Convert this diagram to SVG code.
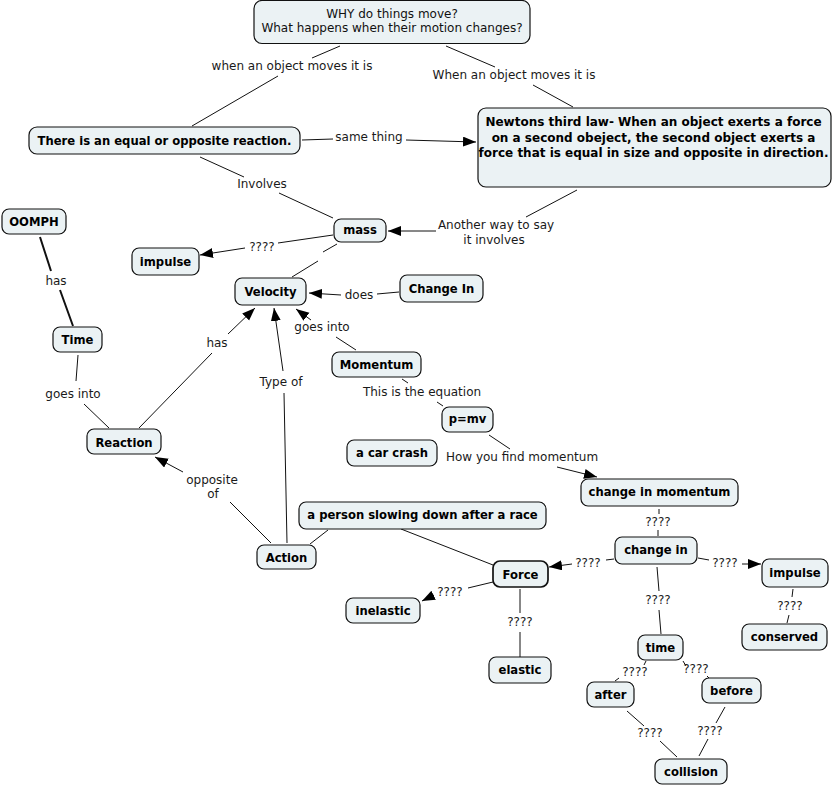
<svg xmlns="http://www.w3.org/2000/svg" width="833" height="786" viewBox="0 0 833 786">
<style>
.n rect{fill:#ebf2f4;stroke:#111;stroke-width:1.2}
.n text{font-family:"DejaVu Sans",Verdana,sans-serif;font-size:11.6px;font-weight:bold;fill:#000;text-anchor:middle}
.n text.r{font-weight:normal;font-size:12px;fill:#111}
.n text.w{font-size:12px}
.c path{fill:none;stroke:#111;stroke-width:1}
.c path.t{stroke-width:2}
.c path.a{marker-end:url(#ah)}
.l text{font-family:"DejaVu Sans",Verdana,sans-serif;font-size:12px;fill:#1a1a1a;text-anchor:middle}
</style>
<defs>
<marker id="ah" markerUnits="userSpaceOnUse" markerWidth="14" markerHeight="12" refX="13" refY="5" orient="auto">
<path d="M0,0 L13,5 L0,10 z" fill="#000"/>
</marker>
</defs>
<rect width="833" height="786" fill="#fff"/>
<g id="connectors" class="c">
<path d="M340,46 L312,58 M278,76 L192,126"/>
<path d="M446,46 L495,67 M533,85 L573,107"/>
<path d="M302,140 L333,139"/><path class="a" d="M406,140 L476,142"/>
<path d="M200,157 L244,177 M279,193 L333,218"/>
<path d="M577,190 L526,217"/><path class="a" d="M436,231 L388,231"/>
<path d="M333,235 L278,243"/><path class="a" d="M245,248 L200,255"/>
<path d="M337,244 L323,252 M318,261 L292,277"/>
<path d="M399,292 L377,294"/><path class="a" d="M341,295 L309,293"/>
<path d="M356,350 L336,337"/><path class="a" d="M311,320 L296,309"/>
<path d="M139,428 L212,353"/><path class="a" d="M228,334 L255,308"/>
<path d="M287,543 L284,393"/><path class="a" d="M283,371 L274,308"/>
<path class="t" d="M40,237 L51,271 M60,290 L73,326"/>
<path d="M78,355 L76,381 M84,404 L109,428"/>
<path d="M271,543 L230,502"/><path class="a" d="M183,472 L155,457"/>
<path d="M310,544 L328,530"/>
<path d="M401,529 L493,565"/>
<path d="M402,379 L408,383 M437,402 L443,406"/>
<path d="M489,435 L510,449"/><path class="a" d="M557,467 L597,477"/>
<path d="M659,509 L659,514 M658,530 L658,536"/>
<path d="M614,559 L606,560"/><path class="a" d="M572,564 L549,567"/>
<path d="M698,558 L709,560"/><path class="a" d="M742,564 L761,564"/>
<path d="M657,567 L659,591 M659,610 L661,634"/>
<path d="M793,589 L792,597 M789,615 L787,623"/>
<path d="M520,589 L520,613 M520,632 L520,657"/>
<path d="M493,582 L468,588"/><path class="a" d="M434,595 L422,601"/>
<path d="M646,661 L644,665 M619,678 L615,681"/>
<path d="M683,661 L686,666 M707,676 L711,680"/>
<path d="M627,711 L644,726 M660,741 L677,757"/>
<path d="M725,707 L716,723 M708,739 L699,756"/>
</g>
<g id="labels" class="l">
<text x="292" y="70">when an object moves it is</text>
<text x="514" y="79">When an object moves it is</text>
<text x="369" y="141">same thing</text>
<text x="262" y="188">Involves</text>
<text x="496" y="229">Another way to say</text>
<text x="494" y="244">it involves</text>
<text x="262" y="251">????</text>
<text x="359" y="299">does</text>
<text x="322" y="331">goes into</text>
<text x="217" y="347">has</text>
<text x="281" y="386">Type of</text>
<text x="56" y="285">has</text>
<text x="73" y="398">goes into</text>
<text x="212" y="484">opposite</text>
<text x="213" y="498">of</text>
<text x="422" y="396">This is the equation</text>
<text x="522" y="461">How you find momentum</text>
<text x="658" y="526">????</text>
<text x="588" y="567">????</text>
<text x="725" y="567">????</text>
<text x="658" y="604">????</text>
<text x="790" y="610">????</text>
<text x="520" y="626">????</text>
<text x="450" y="596">????</text>
<text x="635" y="676">????</text>
<text x="696" y="673">????</text>
<text x="650" y="737">????</text>
<text x="710" y="735">????</text>
</g>
<g id="why" class="n"><rect x="254" y="0.5" width="276" height="43" rx="8"/><text class="r" x="392" y="18">WHY do things move?</text><text class="r" x="392" y="32">What happens when their motion changes?</text></g>
<g id="equal" class="n"><rect x="29" y="127" width="271" height="27" rx="8"/><text x="164.5" y="145">There is an equal or opposite reaction.</text></g>
<g id="newton" class="n"><rect x="478" y="108" width="353" height="79" rx="8"/><text class="w" x="653.5" y="126">Newtons third law- When an object exerts a force</text><text class="w" x="653.5" y="141.5">on a second obeject, the second object exerts a</text><text class="w" x="653.5" y="157">force that is equal in size and opposite in direction.</text></g>
<g id="mass" class="n"><rect x="334" y="219" width="52" height="23" rx="7"/><text x="360" y="234">mass</text></g>
<g id="impulse1" class="n"><rect x="132" y="248" width="67" height="27" rx="7"/><text x="165.5" y="266">impulse</text></g>
<g id="oomph" class="n"><rect x="2" y="209" width="64" height="25" rx="7"/><text x="34" y="226">OOMPH</text></g>
<g id="velocity" class="n"><rect x="235" y="278" width="71" height="27" rx="7"/><text x="270.5" y="296">Velocity</text></g>
<g id="changeIn1" class="n"><rect x="400" y="275" width="83" height="27" rx="7"/><text x="441.5" y="292.5">Change In</text></g>
<g id="time1" class="n"><rect x="53" y="327" width="49" height="25" rx="7"/><text x="77.5" y="344">Time</text></g>
<g id="momentum" class="n"><rect x="332" y="352" width="89" height="25" rx="7"/><text x="376.5" y="369">Momentum</text></g>
<g id="pmv" class="n"><rect x="442" y="407" width="51" height="25" rx="7"/><text x="467.5" y="422.5">p=mv</text></g>
<g id="carcrash" class="n"><rect x="347" y="440" width="90" height="26" rx="7"/><text x="392" y="457">a car crash</text></g>
<g id="reaction" class="n"><rect x="87" y="429" width="74" height="25" rx="7"/><text x="124" y="446.5">Reaction</text></g>
<g id="changeMomentum" class="n"><rect x="581" y="479" width="157" height="27" rx="7"/><text x="659.5" y="496">change in momentum</text></g>
<g id="person" class="n"><rect x="299" y="502" width="247" height="27" rx="7"/><text x="422.5" y="519">a person slowing down after a race</text></g>
<g id="action" class="n"><rect x="257" y="545" width="59" height="24" rx="7"/><text x="286.5" y="561.5">Action</text></g>
<g id="changeIn2" class="n"><rect x="615" y="537" width="82" height="27" rx="7"/><text x="656" y="554">change in</text></g>
<g id="force" class="n"><rect x="493" y="561" width="55" height="26" rx="7" style="stroke-width:1.7"/><text x="520.5" y="578.5">Force</text></g>
<g id="impulse2" class="n"><rect x="762" y="559" width="66" height="28" rx="7"/><text x="795" y="577">impulse</text></g>
<g id="inelastic" class="n"><rect x="346" y="598" width="74" height="25" rx="7"/><text x="383" y="615">inelastic</text></g>
<g id="elastic" class="n"><rect x="489" y="657" width="62" height="26" rx="7"/><text x="520" y="674">elastic</text></g>
<g id="time2" class="n"><rect x="638" y="635" width="45" height="25" rx="7"/><text x="660.5" y="652">time</text></g>
<g id="conserved" class="n"><rect x="742" y="624" width="85" height="26" rx="7"/><text x="784.5" y="641">conserved</text></g>
<g id="after" class="n"><rect x="587" y="682" width="47" height="25" rx="7"/><text x="610.5" y="699">after</text></g>
<g id="before" class="n"><rect x="702" y="678" width="59" height="25" rx="7"/><text x="731.5" y="695">before</text></g>
<g id="collision" class="n"><rect x="655" y="759" width="72" height="25" rx="7"/><text x="691" y="776">collision</text></g>
</svg>
